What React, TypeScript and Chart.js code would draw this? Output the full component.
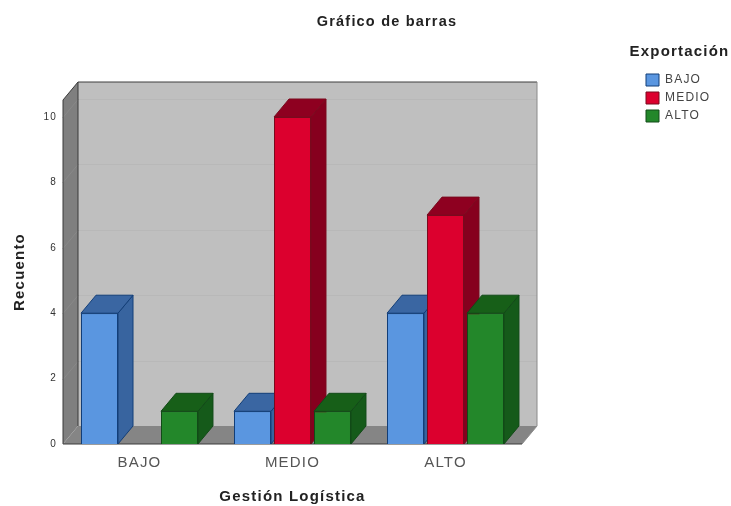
import React, { useEffect, useRef } from "react";
import { Chart, registerables } from "chart.js";

Chart.register(...registerables);

const categories = ["BAJO", "MEDIO", "ALTO"];
const seriesNames = ["BAJO", "MEDIO", "ALTO"];
const legendTitle = "Exportación";
const bajoValues = [4, 1, 4];
const medioValues = [0, 10, 7];
const altoValues = [1, 1, 4];
const yTicks = [0, 2, 4, 6, 8, 10];

const FONT = "'Liberation Sans', Arial, sans-serif";
const TRACKING = "1.2px";
const DX = 15;
const DY = -18;
const FRONT = ["#5A96E0", "#DC002E", "#23872A"];
const BORDER = ["#123E78", "#7A0A1E", "#124A18"];
const SIDE = ["#38649F", "#86001E", "#155A1A"];
const TOP = ["#3A66A2", "#8E0020", "#175F18"];

function poly(ctx: CanvasRenderingContext2D, pts: number[][], fill: string, stroke?: string, lw = 1) {
  ctx.beginPath();
  pts.forEach((p, i) => (i ? ctx.lineTo(p[0], p[1]) : ctx.moveTo(p[0], p[1])));
  ctx.closePath();
  ctx.fillStyle = fill;
  ctx.fill();
  if (stroke) {
    ctx.strokeStyle = stroke;
    ctx.lineWidth = lw;
    ctx.stroke();
  }
}

function seg(ctx: CanvasRenderingContext2D, a: number[], b: number[], color: string) {
  ctx.beginPath();
  ctx.moveTo(a[0], a[1]);
  ctx.lineTo(b[0], b[1]);
  ctx.strokeStyle = color;
  ctx.lineWidth = 1;
  ctx.stroke();
}

const box3d = {
  id: "box3d",
  beforeUpdate(chart: any) {
    chart.ctx.letterSpacing = TRACKING;
  },
  beforeLayout(chart: any) {
    chart.ctx.letterSpacing = TRACKING;
  },
  beforeDraw(chart: any) {
    chart.ctx.letterSpacing = TRACKING;
  },
  afterLayout(chart: any) {
    const t = chart.titleBlock;
    if (t) {
      t.left = 43;
      t.right = 731;
    }
    const l = chart.legend;
    if (l) {
      const h = l.height;
      l.left = 640;
      l.right = 731;
      l.width = 91;
      l.top = 68;
      l.bottom = 68 + h;
    }
  },
  beforeDatasetsDraw(chart: any) {
    const { ctx, chartArea: a, scales } = chart;
    const y = scales.y;
    const L = a.left, R = a.right, T = a.top, B = a.bottom;
    ctx.save();
    // back wall
    poly(ctx, [[L + DX, T + DY], [R + DX, T + DY], [R + DX, B + DY], [L + DX, B + DY]], "#BFBFBF");
    // grid lines on the walls
    const lines = yTicks.filter((v) => v !== 0).map((v) => Math.round(y.getPixelForValue(v)) + 0.5);
    lines.forEach((p) => seg(ctx, [L + DX, p + DY], [R + DX, p + DY], "#B8B8B8"));
    // left wall
    poly(ctx, [[L, T], [L + DX, T + DY], [L + DX, B + DY], [L, B]], "#7F7F7F");
    lines.forEach((p) => seg(ctx, [L, p], [L + DX, p + DY], "#888888"));
    // floor
    poly(ctx, [[L, B], [R, B], [R + DX, B + DY], [L + DX, B + DY]], "#858585");
    // frame
    seg(ctx, [L + DX, T + DY], [R + DX, T + DY], "#3F3F3F");
    seg(ctx, [R + DX, T + DY], [R + DX, B + DY], "#8A8A8A");
    seg(ctx, [R + DX, B + DY], [R, B], "#8A8A8A");
    seg(ctx, [L, T], [L + DX, T + DY], "#3A3A3A");
    seg(ctx, [L, T], [L, B], "#3A3A3A");
    seg(ctx, [L + DX, T + DY], [L + DX, B + DY], "#3A3A3A");
    seg(ctx, [L, B], [R, B], "#3A3A3A");
    ctx.restore();
  },
  afterDatasetsDraw(chart: any) {
    const { ctx } = chart;
    ctx.save();
    chart.data.labels.forEach((_: string, idx: number) => {
      chart.data.datasets.forEach((ds: any, di: number) => {
        if (!ds.data[idx]) return;
        const el = chart.getDatasetMeta(di).data[idx];
        const { x, y, base, width } = el.getProps(["x", "y", "base", "width"], true);
        const l = x - width / 2, r = x + width / 2;
        poly(ctx, [[r, y], [r + DX, y + DY], [r + DX, base + DY], [r, base]], SIDE[di], BORDER[di]);
        poly(ctx, [[l, y], [l + DX, y + DY], [r + DX, y + DY], [r, y]], TOP[di], BORDER[di]);
        el.draw(ctx);
      });
    });
    ctx.restore();
  },
  afterDraw(chart: any) {
    const { ctx } = chart;
    ctx.save();
    ctx.font = `bold 15px ${FONT}`;
    ctx.fillStyle = "#222222";
    ctx.textAlign = "center";
    ctx.textBaseline = "middle";
    ctx.fillText(legendTitle, 679.5, 52);
    ctx.restore();
  },
};

export default function App() {
  const ref = useRef<HTMLCanvasElement>(null);
  useEffect(() => {
    const canvas = ref.current as HTMLCanvasElement;
    const mk = (label: string, data: number[], i: number) => ({
      label,
      data,
      backgroundColor: FRONT[i],
      borderColor: BORDER[i],
      borderWidth: 1,
      barPercentage: 0.925,
      categoryPercentage: 0.784,
    });
    const chart = new Chart(canvas, {
      type: "bar",
      data: {
        labels: categories,
        datasets: [
          mk(seriesNames[0], bajoValues, 0),
          mk(seriesNames[1], medioValues, 1),
          mk(seriesNames[2], altoValues, 2),
        ],
      },
      plugins: [box3d],
      options: {
        animation: false,
        responsive: false,
        layout: { padding: { left: 0, right: 209, top: 0, bottom: 0 } },
        plugins: {
          tooltip: { enabled: false },
          title: {
            display: true,
            text: "Gráfico de barras",
            color: "#222222",
            font: { family: FONT, size: 14.5, weight: "bold", lineHeight: 1.2 },
            padding: { top: 13.3, bottom: 69.3 },
          },
          legend: {
            display: true,
            position: "chartArea",
            align: "start",
            labels: {
              boxWidth: 13,
              boxHeight: 12,
              padding: 6,
              color: "#444444",
              font: { family: FONT, size: 12 },
            },
          },
        },
        scales: {
          x: {
            grid: { display: false },
            border: { display: false },
            ticks: { color: "#555555", font: { family: FONT, size: 15 }, padding: 2, maxRotation: 0 },
            title: {
              display: true,
              text: "Gestión Logística",
              color: "#222222",
              font: { family: FONT, size: 15, weight: "bold", lineHeight: 1.2 },
              padding: { top: 4, bottom: 0 },
            },
            afterFit: (s: any) => {
              s.height = 62;
            },
          },
          y: {
            min: 0,
            max: 10.52,
            grid: { display: false },
            border: { display: false },
            afterBuildTicks: (s: any) => {
              s.ticks = yTicks.map((v) => ({ value: v }));
            },
            ticks: { color: "#333333", font: { family: FONT, size: 10 }, padding: -2 },
            title: {
              display: true,
              text: "Recuento",
              color: "#222222",
              font: { family: FONT, size: 15, weight: "bold", lineHeight: 1.2 },
              padding: { top: 11, bottom: 0 },
            },
            afterFit: (s: any) => {
              s.width = 63;
            },
          },
        },
      },
    } as any);
    return () => chart.destroy();
  }, []);
  return (
    <div style={{ position: "absolute", left: 0, top: 0, width: 731, height: 506 }}>
      <canvas ref={ref} width={731} height={506} style={{ display: "block" }} />
    </div>
  );
}
